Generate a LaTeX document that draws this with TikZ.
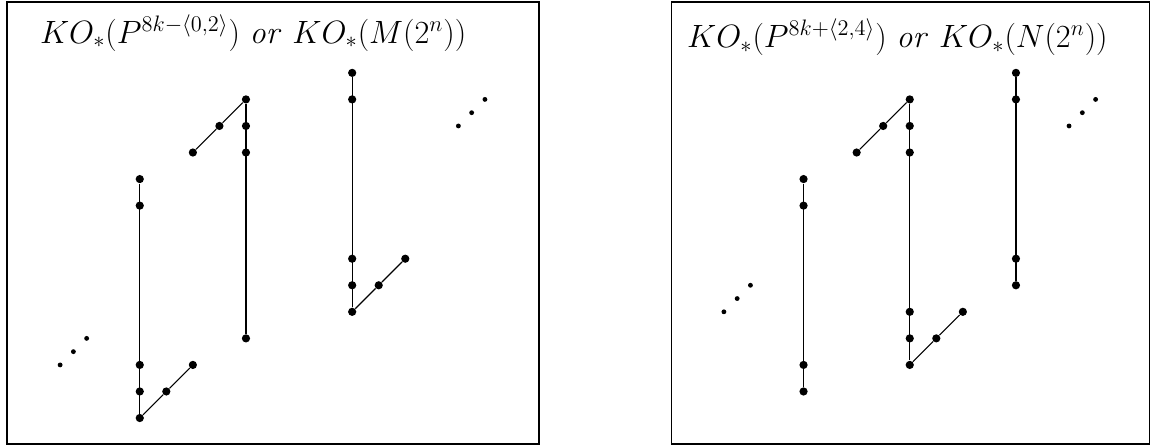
\documentclass[tikz,border=0pt]{standalone}
\usepackage{amsmath,amssymb}
\usetikzlibrary{positioning}

\begin{document}
\begin{tikzpicture}[x=0.5cm, y=0.5cm,
  dot/.style={circle, fill, inner sep=0pt, minimum size=4.4pt},
  tinydot/.style={circle, fill, inner sep=0pt, minimum size=2.6pt},
  frame/.style={draw, line width=0.8pt},
  ttl/.style={font=\LARGE, anchor=base west, inner sep=0pt},
  edge/.style={line width=0.6pt}]
\useasboundingbox (-5.264,-1.055) rectangle (38.35,15.744);

% left panel
\draw[frame] (-5,-0.98) rectangle (15.03,15.67);
\node[ttl] (lttl) at (-3.77,14.12)
  {$KO_*(P^{8k-\langle 0,2\rangle})\ \mathit{or}\ KO_*(M(2^n))$};
\node[tinydot] (lu1) at (-3,2) {};
\node[tinydot] (lu2) at (-2.5,2.5) {};
\node[tinydot] (lu3) at (-2,3) {};
\node[dot] (la0) at (0,0) {};
\node[dot] (la1) at (0,1) {};
\node[dot] (la2) at (0,2) {};
\node[dot] (la8) at (0,8) {};
\node[dot] (la9) at (0,9) {};
\node[dot] (lb1) at (1,1) {};
\node[dot] (lb2) at (2,2) {};
\node[dot] (lc3) at (4,3) {};
\node[dot] (lc10) at (4,10) {};
\node[dot] (lc11) at (4,11) {};
\node[dot] (lc12) at (4,12) {};
\node[dot] (ld10) at (2,10) {};
\node[dot] (ld11) at (3,11) {};
\node[dot] (le4) at (8,4) {};
\node[dot] (le5) at (8,5) {};
\node[dot] (le6) at (8,6) {};
\node[dot] (le12) at (8,12) {};
\node[dot] (le13) at (8,13) {};
\node[dot] (lf5) at (9,5) {};
\node[dot] (lf6) at (10,6) {};
\node[tinydot] (lv1) at (12,11) {};
\node[tinydot] (lv2) at (12.5,11.5) {};
\node[tinydot] (lv3) at (13,12) {};
\draw[edge] (la0) -- (la9);
\draw[edge] (la0) -- (lb1) -- (lb2);
\draw[edge] (lc3) -- (lc12);
\draw[edge] (ld10) -- (ld11) -- (lc12);
\draw[edge] (le4) -- (le13);
\draw[edge] (le4) -- (lf5) -- (lf6);

% right panel
\begin{scope}[xshift=12.5cm]
\draw[frame] (-4.97,-0.98) rectangle (13.03,15.67);
\node[ttl] (rttl) at (-4.4,13.95)
  {$KO_*(P^{8k+\langle 2,4\rangle})\ \mathit{or}\ KO_*(N(2^n))$};
\node[tinydot] (ru1) at (-3,4) {};
\node[tinydot] (ru2) at (-2.5,4.5) {};
\node[tinydot] (ru3) at (-2,5) {};
\node[dot] (ra1) at (0,1) {};
\node[dot] (ra2) at (0,2) {};
\node[dot] (ra8) at (0,8) {};
\node[dot] (ra9) at (0,9) {};
\node[dot] (rc2) at (4,2) {};
\node[dot] (rc3) at (4,3) {};
\node[dot] (rc4) at (4,4) {};
\node[dot] (rc10) at (4,10) {};
\node[dot] (rc11) at (4,11) {};
\node[dot] (rc12) at (4,12) {};
\node[dot] (rb3) at (5,3) {};
\node[dot] (rb4) at (6,4) {};
\node[dot] (rd10) at (2,10) {};
\node[dot] (rd11) at (3,11) {};
\node[dot] (re5) at (8,5) {};
\node[dot] (re6) at (8,6) {};
\node[dot] (re12) at (8,12) {};
\node[dot] (re13) at (8,13) {};
\node[tinydot] (rv1) at (10,11) {};
\node[tinydot] (rv2) at (10.5,11.5) {};
\node[tinydot] (rv3) at (11,12) {};
\draw[edge] (ra1) -- (ra9);
\draw[edge] (rc2) -- (rc12);
\draw[edge] (rc2) -- (rb3) -- (rb4);
\draw[edge] (rd10) -- (rd11) -- (rc12);
\draw[edge] (re5) -- (re13);
\end{scope}
\end{tikzpicture}
\end{document}
